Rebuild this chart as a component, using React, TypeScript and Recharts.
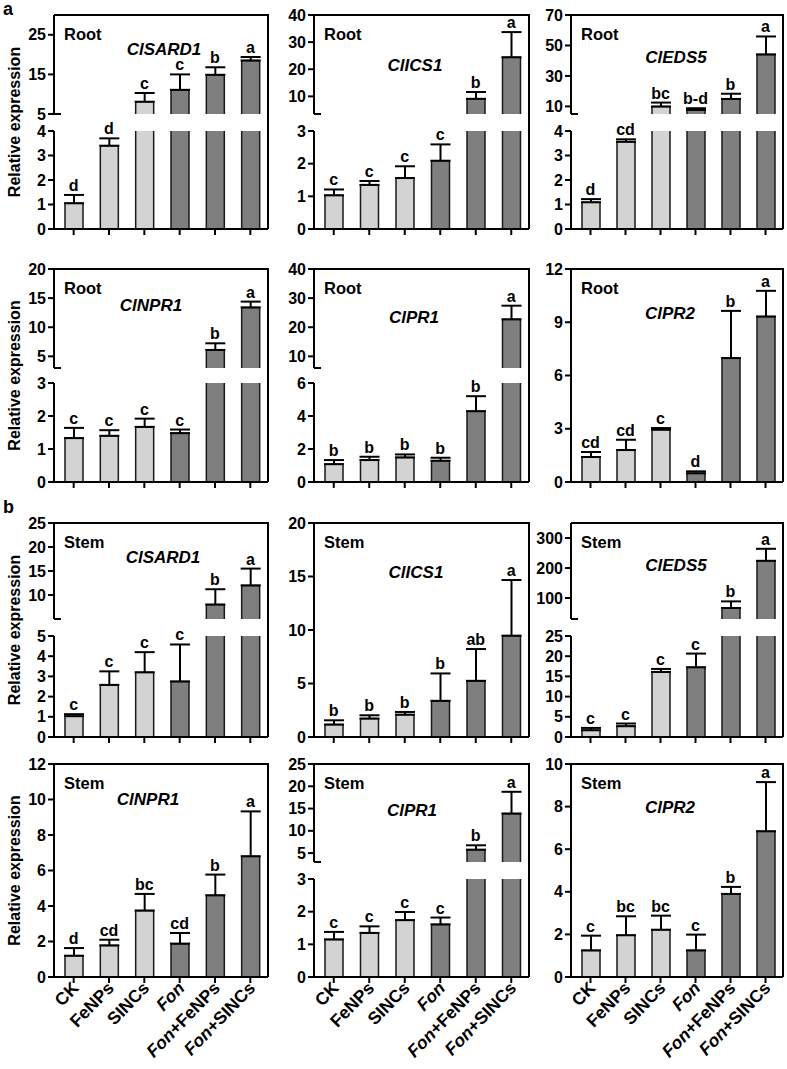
import React from 'react';
import { ComposedChart, Bar, Line, XAxis, YAxis, ErrorBar, Cell } from 'recharts';

const FONT = '"Liberation Sans", Arial, Helvetica, sans-serif';
const LIGHT = '#d3d3d3';
const DARK = '#7f7f7f';
const AXW = 45;

// ---------- data ----------
const categories = ['CK', 'FeNPs', 'SINCs', 'Fon', 'Fon+FeNPs', 'Fon+SINCs'];

const rootSARD1Values = [1.05, 3.4, 8.1, 11.1, 14.9, 18.5];
const rootSARD1Errors = [0.34, 0.3, 2.2, 3.9, 1.9, 0.9];
const rootSARD1Letters = ['d', 'd', 'c', 'c', 'b', 'a'];

const rootICS1Values = [1.03, 1.35, 1.56, 2.09, 9.1, 24.4];
const rootICS1Errors = [0.18, 0.12, 0.36, 0.5, 2.5, 9.3];
const rootICS1Letters = ['c', 'c', 'c', 'c', 'b', 'a'];

const rootEDS5Values = [1.09, 3.56, 9.9, 7.7, 14.9, 44.1];
const rootEDS5Errors = [0.13, 0.1, 2.6, 1.1, 3.4, 11.8];
const rootEDS5Letters = ['d', 'cd', 'bc', 'b-d', 'b', 'a'];

const rootNPR1Values = [1.33, 1.4, 1.67, 1.48, 6.1, 13.4];
const rootNPR1Errors = [0.31, 0.17, 0.25, 0.11, 1.14, 1.0];
const rootNPR1Letters = ['c', 'c', 'c', 'c', 'b', 'a'];

const rootPR1Values = [1.08, 1.33, 1.49, 1.29, 4.29, 22.7];
const rootPR1Errors = [0.25, 0.2, 0.18, 0.18, 0.91, 4.7];
const rootPR1Letters = ['b', 'b', 'b', 'b', 'b', 'a'];

const rootPR2Values = [1.41, 1.8, 2.95, 0.49, 6.98, 9.32];
const rootPR2Errors = [0.28, 0.58, 0.09, 0.11, 2.66, 1.45];
const rootPR2Letters = ['cd', 'cd', 'c', 'd', 'b', 'a'];

const stemSARD1Values = [1.03, 2.58, 3.2, 2.75, 8.0, 12.0];
const stemSARD1Errors = [0.1, 0.67, 1.0, 1.83, 3.2, 3.5];
const stemSARD1Letters = ['c', 'c', 'c', 'c', 'b', 'a'];

const stemICS1Values = [1.16, 1.72, 2.09, 3.38, 5.25, 9.47];
const stemICS1Errors = [0.4, 0.31, 0.25, 2.56, 2.97, 5.2];
const stemICS1Letters = ['b', 'b', 'b', 'b', 'ab', 'a'];

const stemEDS5Values = [1.67, 2.67, 16.1, 17.25, 66.7, 224];
const stemEDS5Errors = [0.58, 0.67, 0.75, 3.4, 22, 40];
const stemEDS5Letters = ['c', 'c', 'c', 'c', 'b', 'a'];

const stemNPR1Values = [1.2, 1.78, 3.74, 1.88, 4.6, 6.8];
const stemNPR1Errors = [0.43, 0.32, 0.94, 0.6, 1.17, 2.53];
const stemNPR1Letters = ['d', 'cd', 'bc', 'cd', 'b', 'a'];

const stemPR1Values = [1.15, 1.35, 1.74, 1.61, 5.77, 13.86];
const stemPR1Errors = [0.23, 0.2, 0.25, 0.21, 0.98, 4.9];
const stemPR1Letters = ['c', 'c', 'c', 'c', 'b', 'a'];

const stemPR2Values = [1.25, 1.96, 2.22, 1.25, 3.9, 6.84];
const stemPR2Errors = [0.69, 0.89, 0.66, 0.74, 0.33, 2.31];
const stemPR2Letters = ['c', 'bc', 'bc', 'c', 'b', 'a'];

// tick labels
const rootSARD1UpperTicks = [5, 15, 25];
const rootSARD1LowerTicks = [0, 1, 2, 3, 4];
const rootICS1UpperTicks = [10, 20, 30, 40];
const rootICS1LowerTicks = [0, 1, 2, 3];
const rootEDS5UpperTicks = [10, 30, 50, 70];
const rootEDS5LowerTicks = [0, 1, 2, 3, 4];
const rootNPR1UpperTicks = [5, 10, 15, 20];
const rootNPR1LowerTicks = [0, 1, 2, 3];
const rootPR1UpperTicks = [10, 20, 30, 40];
const rootPR1LowerTicks = [0, 2, 4, 6];
const rootPR2Ticks = [0, 3, 6, 9, 12];
const stemSARD1UpperTicks = [10, 15, 20, 25];
const stemSARD1LowerTicks = [0, 1, 2, 3, 4, 5];
const stemICS1Ticks = [0, 5, 10, 15, 20];
const stemEDS5UpperTicks = [100, 200, 300];
const stemEDS5LowerTicks = [0, 5, 10, 15, 20, 25];
const stemNPR1Ticks = [0, 2, 4, 6, 8, 10, 12];
const stemPR1UpperTicks = [5, 10, 15, 20, 25];
const stemPR1LowerTicks = [0, 1, 2, 3];
const stemPR2Ticks = [0, 2, 4, 6, 8, 10];

// ---------- layout ----------
const COLS = [
  { L: 54, W: 214 },
  { L: 314, W: 215 },
  { L: 571, W: 212 },
];
const ROWS = [
  { T: 15, B: 229, ub: 114, lt: 131 },
  { T: 269, B: 482, ub: 368, lt: 383 },
  { T: 523, B: 737, ub: 619, lt: 636 },
  { T: 764, B: 977, ub: 862, lt: 879 },
];

function broken(r: number, upper: [number, number], upperTicks: number[], lower: [number, number], lowerTicks: number[]) {
  const R = ROWS[r];
  return [
    { domain: upper, ticks: upperTicks, top: R.T, bottom: R.ub },
    { domain: lower, ticks: lowerTicks, top: R.lt, bottom: R.B },
  ];
}
function single(r: number, domain: [number, number], ticks: number[]) {
  const R = ROWS[r];
  return [{ domain, ticks, top: R.T, bottom: R.B }];
}

const panels = [
  { id: 'r1', r: 0, c: 0, tissue: 'Root', gene: 'ClSARD1', gx: 164, gy: 49, values: rootSARD1Values, errors: rootSARD1Errors, letters: rootSARD1Letters, segs: broken(0, [5, 30], rootSARD1UpperTicks, [0, 4], rootSARD1LowerTicks) },
  { id: 'r2', r: 0, c: 1, tissue: 'Root', gene: 'ClICS1', gx: 415, gy: 65, values: rootICS1Values, errors: rootICS1Errors, letters: rootICS1Letters, segs: broken(0, [3.5, 40], rootICS1UpperTicks, [0, 3], rootICS1LowerTicks) },
  { id: 'r3', r: 0, c: 2, tissue: 'Root', gene: 'ClEDS5', gx: 676, gy: 57, values: rootEDS5Values, errors: rootEDS5Errors, letters: rootEDS5Letters, segs: broken(0, [5, 70], rootEDS5UpperTicks, [0, 4], rootEDS5LowerTicks) },
  { id: 'r4', r: 1, c: 0, tissue: 'Root', gene: 'ClNPR1', gx: 151, gy: 305, values: rootNPR1Values, errors: rootNPR1Errors, letters: rootNPR1Letters, segs: broken(1, [3, 20], rootNPR1UpperTicks, [0, 3], rootNPR1LowerTicks) },
  { id: 'r5', r: 1, c: 1, tissue: 'Root', gene: 'ClPR1', gx: 414, gy: 317, values: rootPR1Values, errors: rootPR1Errors, letters: rootPR1Letters, segs: broken(1, [6, 40], rootPR1UpperTicks, [0, 6], rootPR1LowerTicks) },
  { id: 'r6', r: 1, c: 2, tissue: 'Root', gene: 'ClPR2', gx: 670, gy: 313, values: rootPR2Values, errors: rootPR2Errors, letters: rootPR2Letters, segs: single(1, [0, 12], rootPR2Ticks) },
  { id: 's1', r: 2, c: 0, tissue: 'Stem', gene: 'ClSARD1', gx: 163, gy: 557, values: stemSARD1Values, errors: stemSARD1Errors, letters: stemSARD1Letters, segs: broken(2, [5, 25], stemSARD1UpperTicks, [0, 5], stemSARD1LowerTicks) },
  { id: 's2', r: 2, c: 1, tissue: 'Stem', gene: 'ClICS1', gx: 416, gy: 572, values: stemICS1Values, errors: stemICS1Errors, letters: stemICS1Letters, segs: single(2, [0, 20], stemICS1Ticks) },
  { id: 's3', r: 2, c: 2, tissue: 'Stem', gene: 'ClEDS5', gx: 676, gy: 565, values: stemEDS5Values, errors: stemEDS5Errors, letters: stemEDS5Letters, segs: broken(2, [30, 350], stemEDS5UpperTicks, [0, 25], stemEDS5LowerTicks) },
  { id: 's4', r: 3, c: 0, tissue: 'Stem', gene: 'ClNPR1', gx: 148, gy: 799, values: stemNPR1Values, errors: stemNPR1Errors, letters: stemNPR1Letters, segs: single(3, [0, 12], stemNPR1Ticks) },
  { id: 's5', r: 3, c: 1, tissue: 'Stem', gene: 'ClPR1', gx: 412, gy: 810, values: stemPR1Values, errors: stemPR1Errors, letters: stemPR1Letters, segs: broken(3, [3, 25], stemPR1UpperTicks, [0, 3], stemPR1LowerTicks) },
  { id: 's6', r: 3, c: 2, tissue: 'Stem', gene: 'ClPR2', gx: 670, gy: 807, values: stemPR2Values, errors: stemPR2Errors, letters: stemPR2Letters, segs: single(3, [0, 10], stemPR2Ticks) },
];

// ---------- renderers ----------
const NoTick = () => <g />;

const XTickLabel = (props: any) => {
  const { x, y, payload } = props;
  const v = String(payload.value);
  const fon = v.startsWith('Fon');
  return (
    <g transform={`translate(${x + 6},${y + 6})`}>
      <text textAnchor="end" transform="rotate(-46)" fontSize={17.5} fontWeight="bold" fill="#000" fontFamily={FONT}>
        {fon ? (
          <>
            <tspan fontStyle="italic">Fon</tspan>
            <tspan>{v.slice(3)}</tspan>
          </>
        ) : (
          v
        )}
      </text>
    </g>
  );
};

const renderLetter = (props: any) => {
  const { cx, cy, payload, index } = props;
  if (cy == null || Number.isNaN(cy) || !payload || payload.top == null) return <g key={`lt-${index}`} />;
  return (
    <text key={`lt-${index}`} x={cx} y={cy - 4} textAnchor="middle" fontSize={16} fontWeight="bold" fill="#000" fontFamily={FONT}>
      {payload.letter}
    </text>
  );
};

// bar drawn without the edge that falls on an axis break
const BarShape = (props: any) => {
  const { x, y, width, height, fill, payload } = props;
  if ([x, y, width, height].some((n) => n == null || Number.isNaN(n)) || height <= 0 || width <= 0) return <g />;
  const x0 = x;
  const x1 = x + width;
  const y0 = y;
  const y1 = y + height;
  const edge = payload && payload.cutTop ? `M${x0},${y0}L${x0},${y1}M${x1},${y0}L${x1},${y1}` : `M${x0},${y1}L${x0},${y0}L${x1},${y0}L${x1},${y1}`;
  return (
    <g>
      <rect x={x0} y={y0} width={width} height={height} fill={fill} stroke="none" />
      <path d={edge} fill="none" stroke="#1a1a1a" strokeWidth={1.5} />
    </g>
  );
};

function SegChart({ p, seg, si }: any) {
  const col = COLS[p.c];
  const nSegs = p.segs.length;
  const isBottom = si === nSegs - 1;
  const lowerMax = nSegs === 2 ? p.segs[1].domain[1] : Infinity;
  const segH = seg.bottom - seg.top;
  const MT = 30;
  const mb = isBottom ? 0 : 12;
  const xLabels = p.r === 3;
  const xH = isBottom ? (xLabels ? 92 : 14) : 0;
  const width = AXW + col.W + 12;
  const height = MT + segH + mb + xH;
  const data = categories.map((cat, i) => {
    const v = p.values[i];
    const e = p.errors[i];
    const inUpper = v > lowerMax;
    let sv: number | null = v;
    let cutTop = false;
    if (nSegs === 2) {
      if (si === 0) sv = inUpper ? v : null;
      else {
        sv = inUpper ? lowerMax : v;
        cutTop = inUpper;
      }
    }
    const show = nSegs === 1 || (si === 0 ? inUpper : !inUpper);
    return { cat, value: sv, err: show ? [0, e] : null, top: show ? v + e : null, letter: p.letters[i], cutTop };
  });
  const axisStroke = { stroke: '#000', strokeWidth: 2 };
  return (
    <div style={{ position: 'absolute', left: col.L - AXW, top: seg.top - MT }}>
      <ComposedChart width={width} height={height} data={data} margin={{ top: MT, right: 12, bottom: mb, left: 0 }}>
        <XAxis
          dataKey="cat"
          type="category"
          hide={!isBottom}
          height={xH}
          padding={{ left: 2, right: 0 }}
          axisLine={axisStroke}
          tickLine={axisStroke}
          tickSize={6}
          tickMargin={0}
          interval={0}
          tick={xLabels ? XTickLabel : NoTick}
        />
        <YAxis
          type="number"
          domain={seg.domain}
          ticks={seg.ticks}
          allowDataOverflow
          width={AXW}
          tickSize={6}
          tickMargin={2}
          interval={0}
          axisLine={axisStroke}
          tickLine={axisStroke}
          tick={{ fontSize: 16, fontWeight: 'bold', fill: '#000', fontFamily: FONT }}
        />
        <YAxis yAxisId="lab" orientation="right" type="number" domain={seg.domain} hide width={0} />
        <Bar dataKey="value" barSize={18} isAnimationActive={false} shape={BarShape}>
          {data.map((d, i) => (
            <Cell key={i} fill={i < 3 ? LIGHT : DARK} />
          ))}
          <ErrorBar dataKey="err" width={10} strokeWidth={2} stroke="#000" direction="y" />
        </Bar>
        <Line yAxisId="lab" dataKey="top" stroke="none" dot={renderLetter} activeDot={false} isAnimationActive={false} connectNulls={false} />
      </ComposedChart>
    </div>
  );
}

function Panel({ p }: any) {
  const col = COLS[p.c];
  const row = ROWS[p.r];
  return (
    <>
      {p.segs.map((seg: any, si: number) => (
        <SegChart key={si} p={p} seg={seg} si={si} />
      ))}
      <div
        style={{
          position: 'absolute',
          left: col.L,
          top: row.T - 1,
          width: col.W + 1,
          height: row.B - row.T + 1,
          borderTop: '2px solid #000',
          borderRight: '2px solid #000',
          boxSizing: 'border-box',
        }}
      />
    </>
  );
}

export default function App() {
  return (
    <div style={{ position: 'absolute', left: 0, top: 0, width: 787, height: 1069, background: '#fff', overflow: 'hidden' }}>
      {panels.map((p) => (
        <Panel key={p.id} p={p} />
      ))}
      <svg width={787} height={1069} style={{ position: 'absolute', left: 0, top: 0, pointerEvents: 'none' }}>
        <text x={3} y={15} fontSize={18} fontWeight="bold" fontFamily={FONT} fill="#000">a</text>
        <text x={3} y={513} fontSize={18} fontWeight="bold" fontFamily={FONT} fill="#000">b</text>
        {panels.map((p) => {
          const col = COLS[p.c];
          const row = ROWS[p.r];
          return (
            <g key={p.id}>
              {p.segs.length === 2 && (
                <line x1={col.L} y1={p.segs[0].bottom} x2={col.L + 7} y2={p.segs[0].bottom} stroke="#000" strokeWidth={2} />
              )}
              <text x={col.L + 10} y={row.T + 19} dominantBaseline="central" fontSize={16.5} fontWeight="bold" fontFamily={FONT} fill="#000">
                {p.tissue}
              </text>
              <text x={p.gx} y={p.gy} dominantBaseline="central" textAnchor="middle" fontSize={17} fontWeight="bold" fontStyle="italic" fontFamily={FONT} fill="#000">
                {p.gene}
              </text>
              {p.c === 0 && (
                <text
                  x={14}
                  y={(row.T + row.B) / 2}
                  transform={`rotate(-90, 14, ${(row.T + row.B) / 2})`}
                  dominantBaseline="central"
                  textAnchor="middle"
                  fontSize={16}
                  fontWeight="bold"
                  fontFamily={FONT}
                  fill="#000"
                >
                  Relative expression
                </text>
              )}
            </g>
          );
        })}
      </svg>
    </div>
  );
}
